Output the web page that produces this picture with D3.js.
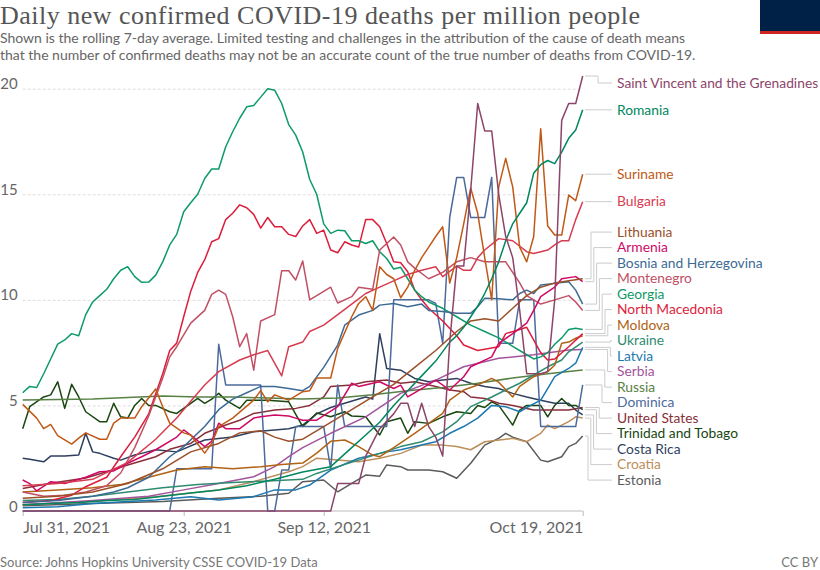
<!DOCTYPE html>
<html>
<head>
<meta charset="utf-8">
<script src="https://cdn.jsdelivr.net/npm/d3@7"></script>
<style>
  body { margin: 0; background: #fff; }
  svg { display: block; font-family: Lato, "Noto Sans", sans-serif; }
</style>
</head>
<body>
<svg id="chart" width="820" height="570"></svg>
<script>
// ---- data (day offset from Jul 31 2021, deaths per million) ----
const startDate = new Date(2021, 6, 31);
const endDate = new Date(2021, 9, 19);
const yTicks = [0, 5, 10, 15, 20];
const xTickDays = [0, 23, 43, 80];
const xTickLabels = ['Jul 31, 2021', 'Aug 23, 2021', 'Sep 12, 2021', 'Oct 19, 2021'];

const names = ['Saint Vincent and the Grenadines', 'Romania', 'Suriname', 'Bulgaria', 'Lithuania',
  'Armenia', 'Bosnia and Herzegovina', 'Montenegro', 'Georgia', 'North Macedonia', 'Moldova',
  'Ukraine', 'Latvia', 'Serbia', 'Russia', 'Dominica', 'United States', 'Trinidad and Tobago',
  'Costa Rica', 'Croatia', 'Estonia'];
const colors = ['#8C4569', '#00875E', '#C05917', '#D73C50', '#9A5129', '#CF0A66', '#3D6A95',
  '#C15065', '#0E9A68', '#DC1E3C', '#B16214', '#2F8B70', '#1D78B0', '#A2559C', '#578145',
  '#4C6A9C', '#883039', '#18470F', '#2E3F5F', '#BC8E5A', '#5B5B5B'];

const saintVincent = [[0,0],[44,0],[45,1.3],[48,1.3],[49,2.6],[51,3.9],[53,4.6],[54,5.1],[55,5.1],[56,4.0],[57,5.1],[58,4.0],[59,3.5],[60,2.6],[61,8.0],[62,11.6],[63,11.6],[64,15.2],[65,19.3],[66,18.0],[67,18.0],[68,15.0],[69,13.0],[70,12.0],[71,9.5],[72,6.5],[74,6.5],[75,6.6],[76,10.0],[77,18.5],[78,19.3],[79,19.3],[80,20.6]];
const romania = [[0,0.3],[4,0.35],[8,0.4],[12,0.5],[16,0.55],[20,0.7],[24,0.85],[28,1.0],[32,1.2],[36,1.5],[40,1.85],[44,2.1],[47,3.0],[49,3.6],[51,4.2],[53,5.0],[55,5.7],[57,6.4],[59,7.1],[61,8.0],[62,8.3],[63,8.7],[64,9.2],[65,9.7],[66,10.3],[67,11.0],[68,11.8],[69,12.8],[70,13.6],[71,14.1],[72,14.6],[73,16.0],[74,16.4],[75,16.6],[76,16.45],[77,17.0],[78,17.65],[79,18.04],[80,19.0]];
const suriname = [[0,5.05],[2,4.4],[3,3.9],[4,4.1],[5,3.57],[7,3.17],[8,3.45],[9,3.7],[11,3.4],[12,3.4],[13,4.16],[14,4.4],[16,4.4],[17,4.94],[19,5.78],[20,4.94],[21,4.16],[23,3.7],[24,3.6],[26,2.74],[27,3.2],[28,4.0],[30,4.4],[33,5.25],[34,5.7],[35,5.17],[36,5.5],[38,5.25],[40,5.65],[41,5.7],[42,6.3],[44,6.3],[45,7.7],[47,9.2],[48,9.83],[49,10.15],[50,9.5],[51,11.57],[52,11.2],[53,11.0],[54,10.1],[55,10.6],[56,11.4],[57,12.0],[58,12.5],[59,13.0],[60,13.46],[61,10.8],[62,12.0],[63,13.6],[64,15.3],[65,14.1],[66,12.0],[67,10.0],[68,15.35],[69,16.7],[70,15.35],[71,12.5],[72,11.8],[73,13.0],[74,18.1],[75,13.5],[76,13.07],[77,13.07],[78,14.96],[79,14.7],[80,15.95]];
const bulgaria = [[0,1.2],[5,1.3],[10,1.5],[15,2.3],[19,3.4],[22,4.4],[24,5.2],[26,5.97],[28,6.6],[31,7.15],[33,7.4],[35,7.6],[37,6.4],[38,7.78],[40,8.0],[41,8.5],[43,8.8],[45,9.3],[47,9.8],[49,10.3],[51,10.6],[53,10.9],[55,11.2],[57,11.4],[59,11.57],[60,11.1],[62,11.6],[63,11.4],[64,11.4],[65,12.0],[66,12.36],[68,12.9],[70,12.8],[72,12.28],[73,12.2],[75,12.36],[76,12.6],[77,12.8],[78,12.8],[79,13.8],[80,14.65]];
const lithuania = [[0,0.6],[5,0.7],[10,0.9],[15,1.3],[20,2.0],[24,2.8],[28,3.2],[31,3.7],[34,3.8],[36,3.5],[38,3.3],[40,3.4],[43,4.0],[46,4.6],[50,5.4],[53,6.0],[56,6.8],[59,7.6],[62,8.5],[64,9.0],[66,9.1],[68,9.0],[70,9.6],[72,10.2],[74,10.6],[76,10.8],[78,10.9],[80,11.0]];
const armenia = [[0,1.47],[1,1.3],[2,0.95],[4,1.39],[6,1.3],[9,1.6],[11,1.86],[13,1.9],[15,2.26],[17,2.57],[19,2.9],[22,3.5],[23,3.84],[24,3.6],[26,3.05],[27,3.3],[28,4.16],[29,3.9],[31,3.9],[33,4.4],[34,4.46],[36,4.55],[38,4.5],[39,4.4],[40,4.3],[42,4.3],[45,4.94],[47,6.05],[48,5.9],[50,6.05],[51,6.12],[53,5.8],[54,5.96],[55,5.4],[57,5.8],[59,6.2],[61,5.73],[63,6.36],[64,6.83],[67,7.3],[68,7.94],[70,8.4],[72,8.9],[73,9.5],[74,10.15],[76,10.6],[77,11.0],[79,11.1],[80,10.86]];
const bosnia = [[0,0.4],[5,0.5],[10,0.7],[13,0.9],[15,1.1],[18,1.6],[21,2.57],[23,3.05],[26,4.0],[28,4.8],[30,5.3],[32,5.6],[34,5.9],[36,5.9],[38,5.8],[40,5.7],[41,5.9],[43,6.8],[45,7.86],[46,8.8],[48,9.28],[50,9.5],[51,9.75],[53,9.83],[55,9.67],[57,9.8],[58,9.5],[60,9.45],[62,9.36],[64,9.36],[65,9.67],[66,10.07],[68,10.05],[70,10.0],[71,10.3],[72,10.46],[73,10.3],[74,10.7],[76,10.78],[78,10.86],[79,10.46],[80,9.8]];
const montenegro = [[0,0.9],[3,0.7],[6,0.75],[9,0.9],[12,1.2],[14,1.8],[16,3.0],[18,4.5],[20,6.3],[21,7.3],[22,7.78],[24,8.9],[26,9.5],[27,10.26],[28,10.46],[29,10.26],[30,9.2],[31,7.78],[32,8.4],[33,6.67],[34,9.0],[36,9.3],[37,11.38],[38,11.38],[39,10.94],[40,11.84],[41,10.0],[42,10.2],[44,10.6],[45,9.85],[47,10.15],[48,10.6],[50,10.5],[51,12.36],[53,12.98],[54,12.6],[55,11.8],[56,11.5],[58,11.0],[60,11.3],[62,11.8],[64,12.0],[66,11.8],[69,11.8],[71,10.8],[72,10.2],[74,9.8],[76,10.0],[78,10.2],[79,9.9],[80,9.5]];
const georgia = [[0,5.6],[1,5.9],[2,5.85],[3,6.5],[4,7.2],[5,7.9],[6,8.1],[7,8.4],[8,8.3],[9,9.3],[10,9.9],[11,10.2],[12,10.5],[13,11.0],[14,11.4],[15,11.57],[16,11.1],[17,10.83],[18,10.84],[19,11.17],[20,11.8],[21,12.6],[22,13.1],[23,14.17],[24,14.6],[25,15.0],[26,15.75],[27,16.2],[28,16.2],[29,17.25],[30,17.96],[31,18.6],[32,19.14],[33,19.2],[34,19.6],[35,20.0],[36,19.93],[37,19.3],[38,18.3],[39,17.8],[40,17.0],[41,15.7],[42,15.0],[43,13.6],[44,13.15],[45,13.3],[46,13.27],[47,12.8],[48,12.8],[49,12.67],[50,12.8],[51,12.28],[52,11.96],[53,11.46],[54,11.54],[55,11.0],[56,10.46],[57,10.15],[58,9.9],[60,9.6],[62,9.2],[64,8.8],[66,8.5],[68,8.2],[70,7.8],[72,7.4],[73,7.2],[74,7.3],[75,7.5],[76,7.9],[77,8.2],[78,8.6],[79,8.65],[80,8.6]];
const northMacedonia = [[0,0.4],[4,0.5],[7,0.75],[9,1.15],[12,1.6],[14,2.57],[16,3.5],[18,4.6],[20,6.5],[21,7.6],[22,7.95],[23,9.2],[24,10.4],[25,11.3],[26,11.9],[27,12.75],[28,12.9],[29,13.8],[30,14.1],[31,14.5],[32,14.36],[33,14.05],[34,13.4],[35,13.9],[36,13.46],[37,13.46],[38,13.1],[39,13.0],[40,13.5],[41,13.8],[42,13.15],[43,13.3],[44,12.36],[45,12.23],[46,12.75],[47,12.6],[48,12.5],[49,13.8],[50,13.8],[51,13.46],[52,12.67],[53,11.8],[54,11.76],[55,11.33],[56,10.46],[57,10.0],[58,9.6],[60,9.0],[62,8.3],[63,7.86],[65,7.6],[68,7.78],[69,8.4],[71,8.6],[72,8.7],[74,7.5],[75,7.15],[76,7.2],[78,7.78],[80,8.4]];
const moldova = [[0,0.9],[5,1.0],[10,1.1],[14,1.25],[18,1.6],[22,1.94],[26,2.1],[30,2.0],[34,2.1],[37,2.2],[40,2.27],[42,2.74],[44,3.3],[46,3.36],[48,3.05],[50,2.65],[51,2.57],[53,3.0],[56,3.68],[58,4.15],[60,4.62],[61,5.25],[63,5.73],[65,5.97],[67,6.28],[68,6.1],[70,5.4],[71,5.9],[73,6.36],[75,6.6],[76,6.9],[77,7.94],[78,8.0],[79,8.18],[80,8.3]];
const ukraine = [[0,0.5],[5,0.55],[10,0.7],[15,0.9],[20,1.1],[25,1.25],[30,1.35],[35,1.42],[40,1.5],[42,1.78],[45,2.1],[48,2.41],[51,2.73],[54,3.05],[57,3.28],[60,3.75],[62,4.23],[64,4.94],[67,5.4],[69,5.73],[71,6.05],[73,6.44],[75,6.83],[77,7.15],[78,7.54],[80,8.0]];
const latvia = [[0,0.15],[5,0.2],[10,0.35],[15,0.45],[19,0.52],[24,0.68],[28,0.52],[33,0.68],[36,1.0],[39,1.0],[41,1.23],[44,1.94],[48,2.5],[52,2.8],[54,2.9],[56,3.05],[59,3.28],[61,3.68],[63,4.0],[65,4.4],[67,5.0],[69,4.94],[71,4.7],[72,4.9],[74,5.25],[75,5.8],[76,6.36],[78,6.75],[79,7.0],[80,7.75]];
const serbia = [[0,0.3],[10,0.5],[18,0.7],[23,1.0],[28,1.3],[33,1.62],[36,2.1],[38,2.57],[40,3.0],[44,3.68],[49,4.46],[54,5.57],[59,6.2],[63,6.83],[68,7.23],[73,7.4],[78,7.62],[80,7.65]];
const russia = [[0,5.26],[10,5.3],[20,5.45],[25,5.4],[30,5.4],[35,5.35],[40,5.3],[45,5.35],[50,5.5],[55,5.7],[60,5.85],[65,6.05],[70,6.3],[75,6.5],[80,6.68]];
const dominica = [[0,0],[21,0],[22,2.0],[27,2.0],[28,7.9],[29,5.97],[34,5.97],[35,0],[36,0],[37,1.94],[38,1.94],[39,4.0],[43,4.0],[44,2.0],[45,5.97],[46,4.0],[52,4.0],[53,10.0],[58,10.0],[59,9.83],[60,7.94],[61,13.9],[62,15.8],[63,15.8],[64,13.9],[66,13.9],[67,15.8],[68,7.94],[70,7.94],[71,10.0],[73,10.0],[74,4.0],[79,4.0],[80,5.97]];
const unitedStates = [[0,1.07],[4,1.31],[9,1.56],[12,1.86],[15,2.18],[19,2.57],[21,2.92],[24,3.2],[26,3.68],[29,4.07],[31,4.3],[33,4.62],[36,4.78],[39,4.86],[41,5.0],[43,5.4],[44,5.9],[47,5.97],[49,6.12],[52,6.2],[54,6.05],[56,6.12],[59,5.9],[61,5.73],[63,5.65],[64,5.4],[66,5.33],[68,5.1],[70,5.0],[73,4.78],[76,4.78],[78,4.78],[80,4.9]];
const trinidad = [[0,3.9],[1,4.94],[3,5.4],[4,5.5],[5,6.12],[6,4.86],[7,6.0],[8,5.4],[9,4.7],[11,4.23],[12,4.23],[13,5.1],[14,4.46],[15,4.4],[16,5.0],[17,5.33],[18,5.0],[19,5.0],[21,4.7],[22,4.62],[23,4.86],[25,5.33],[26,5.1],[27,5.3],[28,5.57],[29,5.25],[31,4.86],[32,5.25],[35,5.25],[37,5.2],[38,5.17],[40,4.0],[41,4.3],[42,4.64],[44,4.46],[46,4.7],[47,4.5],[49,4.46],[51,3.6],[52,4.23],[54,4.4],[55,3.68],[56,4.23],[58,4.15],[60,4.46],[62,4.7],[64,4.62],[65,5.0],[66,4.9],[67,5.17],[68,5.0],[70,4.07],[71,4.78],[72,5.0],[74,5.0],[75,4.46],[76,5.0],[77,5.33],[78,5.0],[79,5.0],[80,4.8]];
const costaRica = [[0,2.5],[1,2.45],[3,2.33],[4,2.6],[6,2.6],[8,2.65],[9,3.68],[10,2.8],[11,2.73],[13,2.5],[14,2.41],[16,2.65],[17,2.73],[19,2.9],[22,2.8],[26,3.36],[30,3.5],[33,3.75],[36,3.84],[38,3.9],[40,4.07],[42,4.6],[44,4.9],[46,5.1],[48,5.3],[49,5.4],[50,5.3],[51,8.4],[52,6.75],[54,6.67],[56,6.28],[58,6.12],[60,6.2],[62,6.28],[64,6.05],[66,5.9],[68,5.8],[70,5.57],[72,5.4],[74,5.25],[76,5.1],[78,5.1],[79,4.78],[80,4.55]];
const croatia = [[0,0.3],[10,0.45],[19,0.68],[28,1.0],[33,1.39],[38,1.86],[40,2.1],[42,2.5],[45,2.41],[48,2.33],[51,2.5],[54,2.73],[57,3.12],[60,3.12],[62,3.05],[64,2.9],[66,3.28],[70,3.44],[72,3.28],[74,3.68],[75,4.07],[76,3.9],[78,4.23],[79,4.46],[80,4.4]];
const estonia = [[0,0.25],[10,0.35],[20,0.45],[28,0.6],[34,0.7],[38,0.84],[40,1.39],[43,1.47],[45,0.91],[47,1.31],[49,1.7],[51,1.65],[52,2.18],[54,2.1],[55,1.94],[58,1.94],[60,1.86],[62,1.55],[64,2.26],[66,3.12],[68,3.44],[69,3.68],[70,3.5],[72,3.28],[74,2.41],[75,2.33],[77,2.57],[78,3.05],[79,3.2],[80,3.55]];

const seriesValues = [saintVincent, romania, suriname, bulgaria, lithuania, armenia, bosnia,
  montenegro, georgia, northMacedonia, moldova, ukraine, latvia, serbia, russia, dominica,
  unitedStates, trinidad, costaRica, croatia, estonia];

// ---- layout ----
const svg = d3.select('#chart');
const dayToDate = (d) => d3.timeDay.offset(startDate, d);

const x = d3.scaleTime().domain([startDate, endDate]).range([22.7, 582.7]);
const y = d3.scaleLinear().domain([0, 20]).range([511, 88.7]);

// header
svg.append('text')
  .attr('x', 0).attr('y', 23.5)
  .style('font-family', '"Liberation Serif", serif')
  .style('font-size', '26px')
  .attr('textLength', 640)
  .attr('lengthAdjust', 'spacing')
  .attr('fill', '#555')
  .text('Daily new confirmed COVID-19 deaths per million people');

const subtitle = svg.append('text')
  .attr('fill', '#666')
  .style('font-size', '14px');
subtitle.append('tspan').attr('x', 0).attr('y', 43)
  .text('Shown is the rolling 7-day average. Limited testing and challenges in the attribution of the cause of death means');
subtitle.append('tspan').attr('x', 0).attr('y', 59.5)
  .text('that the number of confirmed deaths may not be an accurate count of the true number of deaths from COVID-19.');

// logo block
svg.append('rect').attr('x', 760).attr('y', 0).attr('width', 60).attr('height', 31).attr('fill', '#002147');
svg.append('rect').attr('x', 760).attr('y', 31).attr('width', 60).attr('height', 3).attr('fill', '#CE261E');

// y grid + labels
const yAxis = svg.append('g')
  .attr('transform', `translate(${x.range()[0]},0)`)
  .call(d3.axisLeft(y).tickValues(yTicks).tickSize(-(x.range()[1] - x.range()[0])).tickPadding(5));
yAxis.select('.domain').remove();
yAxis.selectAll('.tick line')
  .attr('stroke', '#ddd')
  .attr('stroke-dasharray', '3,2')
  .attr('display', (d) => d === 0 ? 'none' : null);
yAxis.selectAll('.tick text')
  .attr('x', -5)
  .attr('dy', 0)
  .attr('fill', '#666')
  .style('font-family', 'Lato, sans-serif')
  .style('font-size', '15px');

// x axis
const xAxis = svg.append('g')
  .attr('transform', `translate(0,${y(0)})`)
  .call(d3.axisBottom(x)
    .tickValues(xTickDays.map(dayToDate))
    .tickFormat((d, i) => xTickLabels[i])
    .tickSize(5)
    .tickPadding(6));
xAxis.select('.domain').attr('stroke', '#bbb').attr('d', `M${x.range()[0]},0H${x.range()[1]}`);
xAxis.selectAll('.tick line').attr('stroke', '#bbb');
xAxis.selectAll('.tick text')
  .attr('fill', '#666')
  .style('font-family', 'Lato, sans-serif')
  .style('font-size', '16px')
  .attr('text-anchor', (d, i) => i === 0 ? 'start' : (i === xTickDays.length - 1 ? 'end' : 'middle'));

// lines
const line = d3.line()
  .x((d) => x(dayToDate(d[0])))
  .y((d) => y(d[1]));

const lineGroup = svg.append('g').attr('fill', 'none');
d3.range(names.length).reverse().forEach((i) => {
  lineGroup.append('path')
    .attr('d', line(seriesValues[i]))
    .attr('stroke', colors[i])
    .attr('stroke-width', 1.5)
    .attr('stroke-linejoin', 'round');
});

// end labels with collision avoidance
const gap = 15.5;
const labelTop = 83;
const items = names.map((n, i) => {
  const last = seriesValues[i][seriesValues[i].length - 1];
  return { name: n, color: colors[i], ideal: y(last[1]) };
}).sort((a, b) => a.ideal - b.ideal);

let clusters = items.map((d) => ({ items: [d], center: d.ideal }));
const clusterTopY = (c) => c.center - (c.items.length - 1) * gap / 2;
let merged = true;
while (merged) {
  merged = false;
  for (let i = 0; i < clusters.length - 1; i++) {
    const a = clusters[i], b = clusters[i + 1];
    const aBottom = clusterTopY(a) + (a.items.length - 1) * gap;
    if (clusterTopY(b) - aBottom < gap) {
      const joined = a.items.concat(b.items);
      clusters.splice(i, 2, { items: joined, center: d3.mean(joined, (d) => d.ideal) });
      merged = true;
      break;
    }
  }
}
clusters.forEach((c) => {
  const top = Math.max(clusterTopY(c), labelTop);
  c.items.forEach((d, k) => { d.labelY = top + k * gap; });
  const up = c.items.filter((d) => d.labelY < d.ideal - 1);
  const down = c.items.filter((d) => d.labelY > d.ideal + 1).reverse();
  up.forEach((d, k) => { d.elbow = c.items.length === 1 ? 598 : 591 + 2.8 * k; });
  down.forEach((d, k) => { d.elbow = c.items.length === 1 ? 598 : 588 + 2.8 * k; });
});

const labelGroup = svg.append('g');
items.forEach((d) => {
  const path = d.elbow === undefined
    ? `M585,${d.ideal}H612`
    : `M585,${d.ideal}H${d.elbow}V${d.labelY}H612`;
  labelGroup.append('path')
    .attr('d', path)
    .attr('fill', 'none')
    .attr('stroke', '#ccc')
    .attr('stroke-width', 1);
  labelGroup.append('text')
    .attr('x', 617)
    .attr('y', d.elbow === undefined ? d.ideal : d.labelY)
    .attr('dy', '0.35em')
    .attr('fill', d.color)
    .style('font-size', '13.8px')
    .text(d.name);
});

// footer
svg.append('text')
  .attr('x', 0).attr('y', 567)
  .attr('fill', '#777')
  .style('font-size', '13px')
  .text('Source: Johns Hopkins University CSSE COVID-19 Data');
svg.append('text')
  .attr('x', 818).attr('y', 567)
  .attr('text-anchor', 'end')
  .attr('fill', '#777')
  .style('font-size', '13px')
  .text('CC BY');
</script>
</body>
</html>
